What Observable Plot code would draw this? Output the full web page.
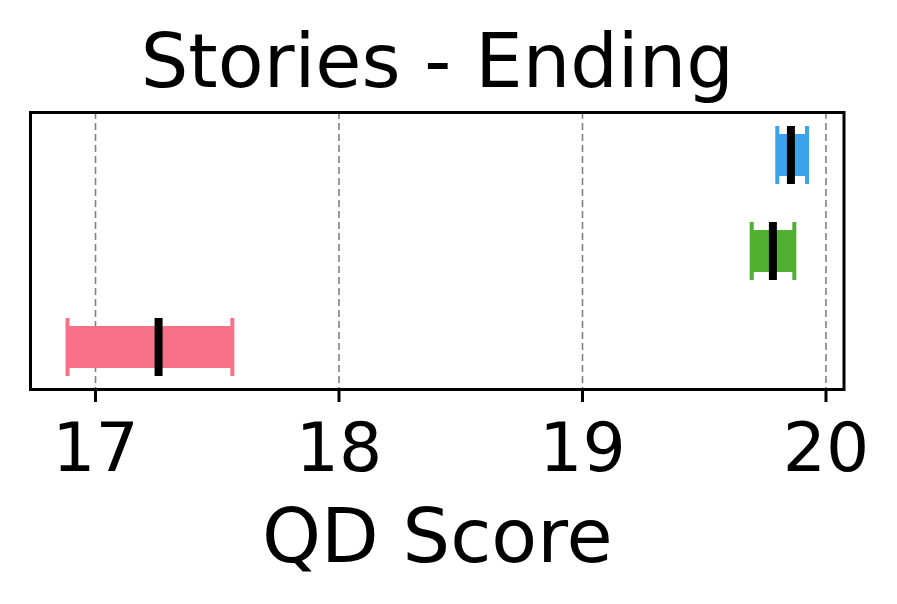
<!DOCTYPE html>
<html>
<head>
<meta charset="utf-8">
<script src="https://cdn.jsdelivr.net/npm/d3@7"></script>
<script src="https://cdn.jsdelivr.net/npm/@observablehq/plot@0.6"></script>
<style>
  html, body { margin: 0; padding: 0; background: #fff; }
</style>
</head>
<body>
<div id="chart"></div>
<script>
// Data
const methods = ["Method 1", "Method 2", "Method 3"];   // top to bottom
const colors  = ["#3ba3ec", "#50b131", "#f77189"];
const mins    = [19.80, 19.695, 16.885];
const medians = [19.856, 19.782, 17.259];
const maxs    = [19.922, 19.87, 17.562];
const xTicks  = [17, 18, 19, 20];
const title   = "Stories - Ending";
const xLabel  = "QD Score";

const rows = methods.map((m, i) => ({method: m, color: colors[i], min: mins[i], median: medians[i], max: maxs[i]}));

const chart = Plot.plot({
  width: 897,
  height: 604,
  marginTop: 112,
  marginBottom: 215,
  marginLeft: 30,
  marginRight: 53.5,
  style: {fontFamily: "DejaVu Sans", background: "white", color: "black"},
  x: {domain: [16.733, 20.074]},
  y: {domain: methods, paddingInner: 0.399, paddingOuter: 0.1346, axis: null},
  marks: [
    Plot.ruleX(xTicks, {stroke: "#808080", strokeWidth: 1.6, strokeDasharray: "7,4"}),
    Plot.barX(rows, {x1: "min", x2: "max", y: "method", fill: d => d.color, insetTop: 8, insetBottom: 8}),
    Plot.tickX(rows, {x: "min", y: "method", stroke: d => d.color, strokeWidth: 4}),
    Plot.tickX(rows, {x: "max", y: "method", stroke: d => d.color, strokeWidth: 4}),
    Plot.tickX(rows, {x: "median", y: "method", stroke: "black", strokeWidth: 8}),
    Plot.frame({stroke: "black", strokeWidth: 3}),
    Plot.axisX({ticks: xTicks, tickSize: 13, strokeWidth: 3, tickPadding: 20, fontSize: 68, label: null, tickFormat: d => String(d)}),
    Plot.text([xLabel], {text: d => d, frameAnchor: "bottom", dy: 148, fontSize: 75, lineAnchor: "middle"}),
    Plot.text([title], {text: d => d, frameAnchor: "top", dy: -50, fontSize: 75, lineAnchor: "middle"})
  ]
});
document.getElementById("chart").appendChild(chart);
</script>
</body>
</html>
